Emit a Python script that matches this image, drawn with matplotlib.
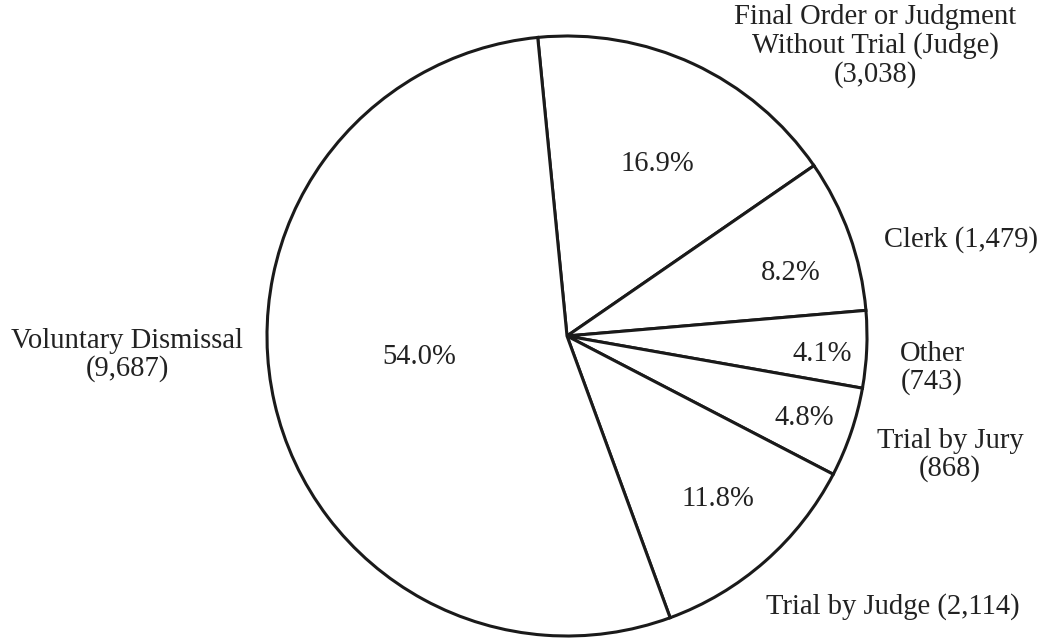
import numpy as np
import matplotlib
matplotlib.use("Agg")
import matplotlib.pyplot as plt

# Case dispositions (counts), clockwise from the top
categories = ["Final Order or Judgment\nWithout Trial (Judge)", "Clerk", "Other",
              "Trial by Jury", "Trial by Judge", "Voluntary Dismissal"]
counts = [3038, 1479, 743, 868, 2114, 9687]

# how the count is joined to the name in each label
label_sep = ["\n", " ", "\n", "\n", " ", "\n"]

# label placement (pixel coords, origin top-left)
label_pos = [(875, 46), (961, 240), (932, 368), (950, 455), (893, 607), (127, 355)]
pct_pos = [(657, 164), (791, 273), (822, 354), (804, 418), (718, 499), (419, 357)]

W, H = 1042, 641
fig = plt.figure(figsize=(W / 100, H / 100), dpi=100)
ax = fig.add_axes([0, 0, 1, 1])

font = dict(family="Liberation Serif", size=20.6, color="#222222")

ax.pie(counts, startangle=95.6, counterclock=False, center=(567, H - 336), radius=300,
       colors=["white"] * len(counts),
       wedgeprops=dict(edgecolor="#1a1a1a", linewidth=2.2))

total = sum(counts)
for name, c, sep, (x, y) in zip(categories, counts, label_sep, label_pos):
    ax.text(x, H - y, f"{name}{sep}({c:,})", ha="center", va="center",
            linespacing=1.08, **font)

for c, (x, y) in zip(counts, pct_pos):
    ax.text(x, H - y, f"{c / total * 100:.1f}%", ha="center", va="center", **font)

ax.set_xlim(0, W)
ax.set_ylim(0, H)
ax.set_aspect("equal")
ax.axis("off")

fig.savefig("out.png", dpi=100, facecolor="white")
